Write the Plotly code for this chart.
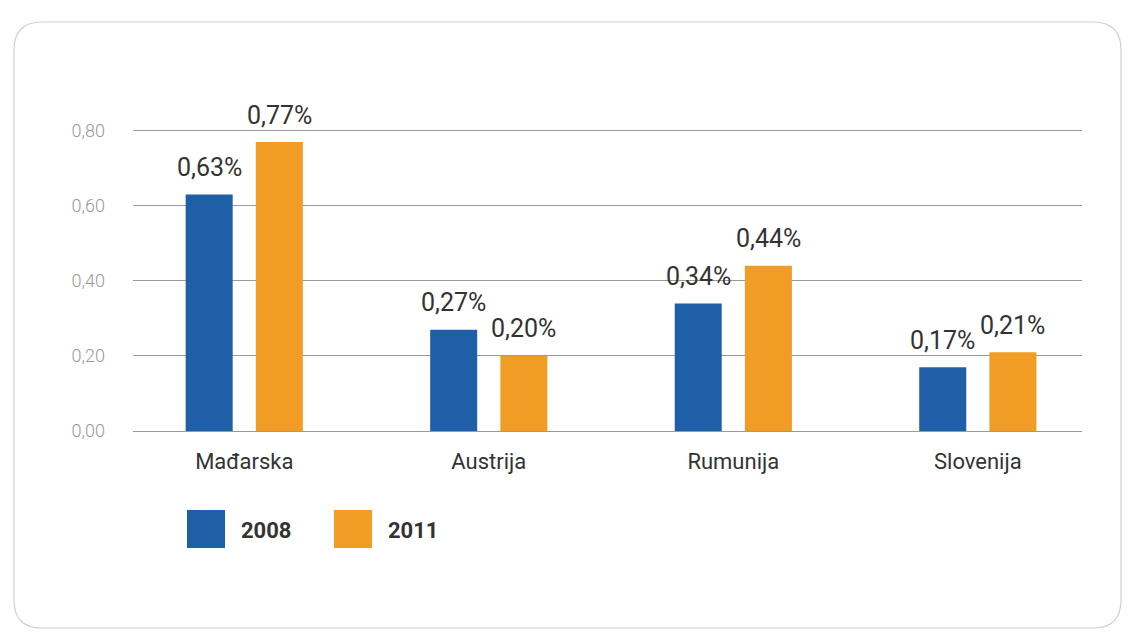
import plotly.graph_objects as go

categories = ["Mađarska", "Austrija", "Rumunija", "Slovenija"]
series_names = ["2008", "2011"]
values_2008 = [0.63, 0.27, 0.34, 0.17]
values_2011 = [0.77, 0.20, 0.44, 0.21]
tick_vals = [0.0, 0.2, 0.4, 0.6, 0.8]
colors = ["#1f5fa8", "#f19d25"]

W, H = 1135, 632
YMAX = 0.81
L, R, B = 133, 53, 201
T = round(H - B - YMAX * 375)
pw, ph = W - L - R, H - T - B

BARGAP, GROUPGAP = 0.426, 0.33
slot = (1 - BARGAP) / 2
offsets = [-slot / 2, slot / 2]


def px(x):
    return (x - L) / pw


def py(y):
    return (H - B - y) / ph


fig = go.Figure()
annotations = []
for name, vals, col, off in zip(series_names, [values_2008, values_2011], colors, offsets):
    xs = list(range(len(categories)))
    fig.add_trace(go.Bar(
        x=xs, y=vals, name=name,
        marker=dict(color=col, line=dict(width=0)),
        showlegend=False, hoverinfo="x+y",
    ))
    for i, v in zip(xs, vals):
        annotations.append(dict(
            x=i + off, y=v, xref="x", yref="y",
            text=f"{v:.2f}".replace(".", ",") + "%",
            showarrow=False, yanchor="middle", xanchor="center", yshift=27,
            font=dict(family="Roboto", size=25, color="#333333"),
        ))

# Rounded border
x0, x1, y0, y1 = px(14), px(1121), py(22), py(628)
rx, ry = 28 / pw, 28 / ph
path = (f"M {x0+rx},{y0} L {x1-rx},{y0} Q {x1},{y0} {x1},{y0-ry} "
        f"L {x1},{y1+ry} Q {x1},{y1} {x1-rx},{y1} L {x0+rx},{y1} "
        f"Q {x0},{y1} {x0},{y1+ry} L {x0},{y0-ry} Q {x0},{y0} {x0+rx},{y0} Z")
shapes = [dict(type="path", path=path, xref="paper", yref="paper",
               line=dict(color="#d0d0d0", width=1.2), layer="below")]

# Legend squares + labels
leg_x = [187, 334]
for name, col, lx in zip(series_names, colors, leg_x):
    shapes.append(dict(type="rect", xref="paper", yref="paper",
                       x0=px(lx), x1=px(lx + 38), y0=py(548), y1=py(510),
                       fillcolor=col, line=dict(width=0)))
    annotations.append(dict(text=f"<b>{name}</b>", xref="paper", yref="paper",
                            x=px(lx + 52), y=py(530), xanchor="left", yanchor="middle",
                            showarrow=False,
                            font=dict(family="Roboto", size=22, color="#333333")))

fig.update_layout(
    width=W, height=H,
    margin=dict(l=L, r=R, t=T, b=B),
    paper_bgcolor="white", plot_bgcolor="white",
    barmode="group", bargap=BARGAP, bargroupgap=GROUPGAP,
    separators=",.",
    showlegend=False,
    shapes=shapes, annotations=annotations,
    xaxis=dict(
        range=[-0.455, 3.426],
        tickmode="array", tickvals=list(range(len(categories))), ticktext=categories,
        tickfont=dict(family="Roboto", size=22, color="#333333"),
        showgrid=False, zeroline=False, showline=False, ticks="",
        ticklabelstandoff=15,
    ),
    yaxis=dict(
        range=[0, YMAX],
        tickmode="array", tickvals=tick_vals, tickformat=".2f",
        tickfont=dict(family="Roboto", size=18, color="#9a9a9a", weight=300),
        showgrid=True, gridcolor="#9a9a9a", gridwidth=1,
        zeroline=True, zerolinecolor="#9a9a9a", zerolinewidth=1,
        showline=False, ticks="", ticklabelstandoff=27,
    ),
)

fig.write_html("out.html", config={"displayModeBar": False},
               post_script="document.body.style.margin='0px';")
